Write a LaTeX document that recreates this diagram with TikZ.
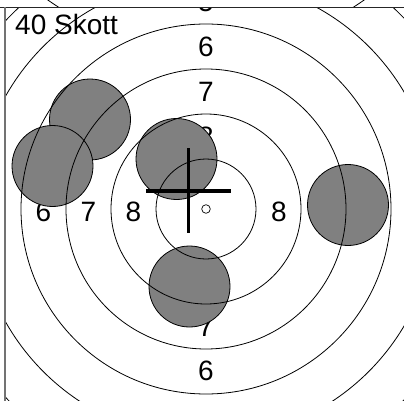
\documentclass[tikz,border=0pt]{standalone}
\usepackage{fontspec}
\setmainfont{Liberation Sans}
\definecolor{shotgray}{gray}{0.5}
\begin{document}
\begin{tikzpicture}[x=1pt,y=-1pt,
  ring/.style={draw=black,line width=0.8pt},
  shot/.style={circle,draw=black,line width=0.8pt,fill=shotgray,minimum size=81pt,inner sep=0pt},
  lbl/.style={inner sep=0pt,font=\fontsize{28}{28}\selectfont},
  crossline/.style={line width=3.2pt,draw=black}]
\useasboundingbox (0,0) rectangle (404,401);
\fill[white] (0,0) rectangle (404,401);
\coordinate (c) at (206,209);
\begin{scope}
  \clip (5,7.5) rectangle (404,401);
  % ring labels
  \node[lbl] (t5) at (206,2) {5};
  \node[lbl] (t6) at (206,46.5) {6};
  \node[lbl] (t7) at (206,91.5) {7};
  \node[lbl] (t8) at (206,137) {8};
  \node[lbl] (b8) at (206,281) {8};
  \node[lbl] (b7) at (206,326.5) {7};
  \node[lbl] (b6) at (206,371) {6};
  \node[lbl] (l6) at (43.5,211.5) {6};
  \node[lbl] (l7) at (88.5,211.5) {7};
  \node[lbl] (l8) at (133.5,211.5) {8};
  \node[lbl] (r8) at (279,211.5) {8};
  \node[lbl] (r7) at (324,211.5) {7};
  \node[lbl] (r6) at (369,211.5) {6};
  % shots
  \node[shot] (s1) at (90,119.5) {};
  \node[shot] (s2) at (52.5,166) {};
  \node[shot] (s3) at (176.5,159) {};
  \node[shot] (s4) at (348,205) {};
  \node[shot] (s5) at (189.5,286.5) {};
  % rings
  \foreach \r in {50,95,140,185,230,275}
    \draw[ring] (c) circle[radius=\r];
  % crosshair
  \coordinate (hl) at (146,191);
  \coordinate (hr) at (231,191);
  \coordinate (vt) at (188.5,148);
  \coordinate (vb) at (188.5,233);
  \draw[crossline] (hl) -- (hr);
  \draw[crossline] (vt) -- (vb);
  % center mark
  \node[circle,draw=black,line width=0.7pt,fill=white,inner sep=0pt,minimum size=8.6pt] (dot) at (c) {};
\end{scope}
% part of the panel above
\begin{scope}
  \clip (0,0) rectangle (404,7.5);
  \draw[ring] (206,-225) circle[radius=275];
\end{scope}
% frame
\coordinate (fa) at (0,7.5);
\coordinate (fb) at (404,7.5);
\coordinate (fc) at (5,7.5);
\coordinate (fd) at (5,401);
\draw[line width=1.2pt,black!85] (fa) -- (fb);
\draw[line width=1.6pt,black!55] (fc) -- (fd);
\node[lbl,anchor=base west] (title) at (15,35) {40 Skott};
\end{tikzpicture}
\end{document}
